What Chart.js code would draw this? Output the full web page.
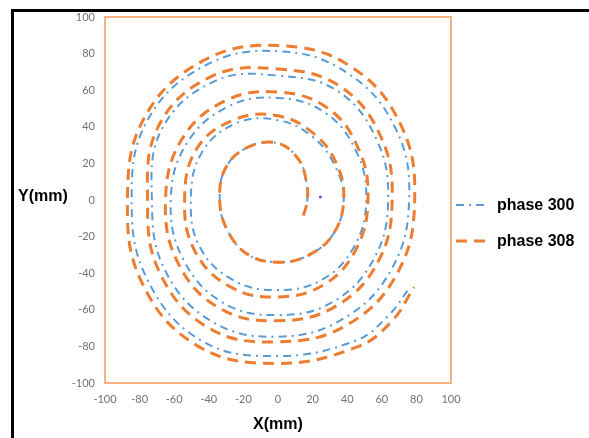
<!DOCTYPE html>
<html>
<head>
<meta charset="utf-8">
<script src="https://cdn.jsdelivr.net/npm/chart.js@4.4.1/dist/chart.umd.min.js"></script>
<style>
  body { margin: 0; background: #fff; }
  #wrap { position: relative; width: 589px; height: 438px; overflow: hidden; }
  #chart { position: absolute; left: 0; top: 0; }
  .frame { position: absolute; background: #000; }
  #ytitle { position: absolute; left: 18px; top: 187px; font: bold 16px "Liberation Sans", Arial, sans-serif; color: #000; }
  .leg { position: absolute; left: 456px; height: 20px; display: flex; align-items: center; font: bold 16px "Liberation Sans", Arial, sans-serif; color: #000; }
  .leg svg { margin-right: 8px; }
</style>
</head>
<body>
<div id="wrap">
  <canvas id="chart" width="589" height="438"></canvas>
  <div class="frame" style="left:11px;top:9px;width:3px;height:429px"></div>
  <div class="frame" style="left:11px;top:9px;width:578px;height:3px"></div>
  <div id="ytitle">Y(mm)</div>
  <div class="leg" style="top:195px">
    <svg width="33" height="6"><line x1="0" y1="3" x2="33" y2="3" stroke="#5B9BD5" stroke-width="2" stroke-dasharray="8 5 2 5"/></svg>phase 300
  </div>
  <div class="leg" style="top:231px">
    <svg width="33" height="6"><line x1="0" y1="3" x2="33" y2="3" stroke="#ED7D31" stroke-width="3" stroke-dasharray="11 7"/></svg>phase 308
  </div>
</div>
<script>
// phase 300 (blue, dash-dot)
const phase300X = [17, 16.5, 12, 0, -17, -30, -33.7, -29, -17, 1, 18, 32, 38, 33, 20, 0, -24, -44, -50.4, -45, -25.5, 0, 25.5, 44, 51, 45.5, 27.5, 0, -29, -53, -62, -55, -32, 0, 32, 55.5, 63.7, 57, 34.5, 0, -36.5, -67, -72.9, -65.5, -38, 0, 37.5, 65.5, 75.8, 68, 40, 0, -42, -75.5, -84.6, -75.5, -44, 0, 44.5, 63.5, 76];
const phase300Y = [-1, 9.5, 22, 31, 29, 18, 0, -17, -30, -34, -30, -18.5, 0, 18.5, 34.5, 43.6, 42, 26, 0, -26, -44, -49.2, -43.5, -25.5, 0, 26, 47.5, 55.8, 51, 30.5, 0, -32, -56, -62.9, -55.5, -32, 0, 33, 59.5, 68, 65, 39, 0, -38, -66.5, -74.7, -65, -38, 0, 39, 69.5, 81.3, 73.5, 43.5, 0, -43.5, -77, -85.3, -77, -63.5, -48];

// phase 308 (orange, dashed)
const phase308X = [14.7, 17, 16.5, 12, 0, -17, -30, -33.7, -29, -17, 1, 18, 32, 38, 34, 21, 0, -25, -47, -54, -48, -27.5, 0, 27, 45.5, 52, 47, 29, 0, -31, -56, -65, -58, -34, 0, 33.5, 58, 66, 59.5, 36, 0, -38.5, -69, -75.4, -68.5, -40, 0, 39.5, 69, 79, 71, 42, 0, -43.5, -77.5, -87, -78.5, -46, 0, 46.3, 66, 78.7];
const phase308Y = [-8.5, 0, 9.5, 22, 31, 29, 18, 0, -17, -30, -34, -30, -18.5, 0, 19.5, 36, 46, 44, 28, 0, -28, -47.5, -53, -46, -26.2, 0, 27, 50, 59, 54, 32.5, 0, -34, -59, -66, -58, -33.5, 0, 34.5, 62, 71.6, 67.5, 40.5, 0, -39.5, -70, -77.5, -68.5, -40, 0, 41, 73, 84.4, 76, 44.5, 0, -45.5, -80, -89.3, -80.1, -66, -47.6];

// stray marker near the centre
const strayX = [24.5];
const strayY = [1.7];

const axisTicks = [-100, -80, -60, -40, -20, 0, 20, 40, 60, 80, 100];

const toPoints = (xs, ys) => xs.map((x, i) => ({ x: x, y: ys[i] }));

// orange box around the plot area
const plotBox = {
  id: "plotBox",
  afterDraw(chart) {
    const a = chart.chartArea;
    const ctx = chart.ctx;
    ctx.save();
    ctx.strokeStyle = "#F4B183";
    ctx.lineWidth = 2;
    ctx.strokeRect(a.left, a.top, a.right - a.left, a.bottom - a.top);
    ctx.restore();
  }
};

const tickFont = { family: "Lato", size: 11 };

new Chart(document.getElementById("chart"), {
  type: "scatter",
  plugins: [plotBox],
  data: {
    datasets: [
      {
        label: "phase 300",
        data: toPoints(phase300X, phase300Y),
        showLine: true,
        borderColor: "#5B9BD5",
        borderWidth: 2,
        borderDash: [8, 5, 2, 5],
        pointRadius: 0,
        tension: 0.4,
        order: 2
      },
      {
        label: "phase 308",
        data: toPoints(phase308X, phase308Y),
        showLine: true,
        borderColor: "#ED7D31",
        borderWidth: 3,
        borderDash: [11, 7],
        pointRadius: 0,
        tension: 0.4,
        order: 1
      },
      {
        label: "",
        data: toPoints(strayX, strayY),
        showLine: false,
        pointRadius: 1.5,
        pointBackgroundColor: "#5A5AE6",
        pointBorderWidth: 0,
        order: 0
      }
    ]
  },
  options: {
    responsive: false,
    animation: false,
    layout: { padding: { top: 17, right: 138, left: 0, bottom: 0 } },
    plugins: {
      legend: { display: false },
      tooltip: { enabled: false }
    },
    scales: {
      x: {
        type: "linear",
        min: -100,
        max: 100,
        afterFit: (s) => { s.height = 55; },
        afterBuildTicks: (s) => { s.ticks = axisTicks.map(v => ({ value: v })); },
        grid: { display: false, drawTicks: false },
        border: { display: false },
        ticks: { color: "#737373", font: tickFont, padding: 10 },
        title: {
          display: true,
          text: "X(mm)",
          color: "#000",
          font: { family: "Liberation Sans", size: 16, weight: "bold" },
          padding: { top: 0, bottom: 4 }
        }
      },
      y: {
        type: "linear",
        min: -100,
        max: 100,
        afterFit: (s) => { s.width = 105; },
        afterBuildTicks: (s) => { s.ticks = axisTicks.map(v => ({ value: v })); },
        grid: { display: false, drawTicks: false },
        border: { display: false },
        ticks: { color: "#737373", font: tickFont, padding: 10 }
      }
    }
  }
});
</script>
</body>
</html>
